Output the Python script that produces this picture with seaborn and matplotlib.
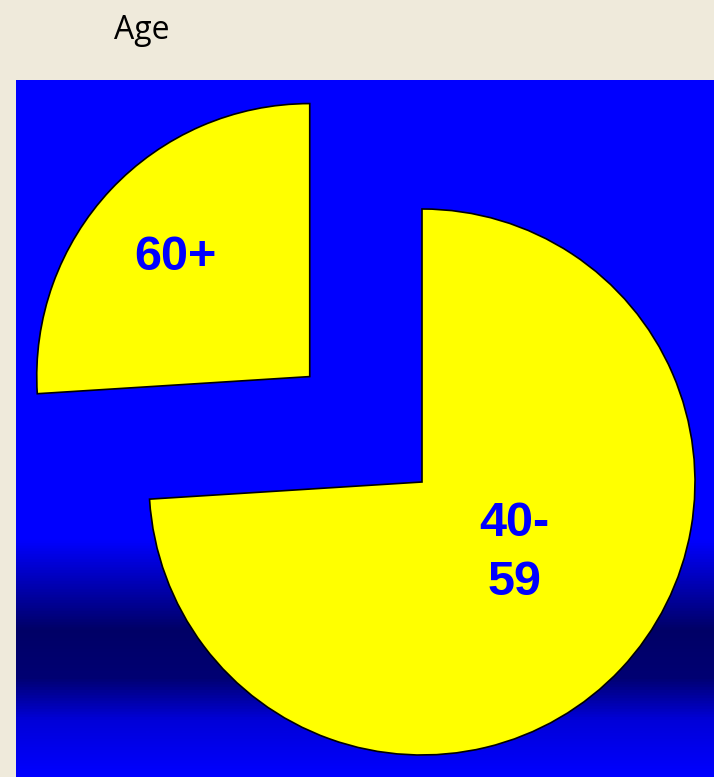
import numpy as np
import matplotlib
matplotlib.use("Agg")
import matplotlib.pyplot as plt
import seaborn as sns
from matplotlib.colors import LinearSegmentedColormap

# ---- data ----
categories = ["40-\n59", "60+"]
shares = [74, 26]
explode_px = [0, 154]
title = "Age"

sns.set_theme(style="white")
plt.rcParams['font.family'] = ['Liberation Sans', 'DejaVu Sans']

W, H = 714, 777
fig = plt.figure(figsize=(W / 100, H / 100), dpi=100)
fig.patch.set_facecolor('#EFEADB')

# panel axes in pixel-like data units (y up)
px0, py0 = 16, 80
ax = fig.add_axes([px0 / W, 0, (W - px0) / W, (H - py0) / H])
ax.set_axis_off()

# vertical gradient background (blue -> navy -> blue), row 0 = top of panel
cmap = LinearSegmentedColormap.from_list(
    "bg",
    [(0.0, (0, 0, 1)), (0.66, (0, 0, 1)), (0.79, (0, 0, 0.40)),
     (0.86, (0, 0, 0.45)), (0.92, (0, 0, 0.85)), (1.0, (0, 0, 1))])
grad = np.linspace(0, 1, 512).reshape(-1, 1)
ax.imshow(grad, cmap=cmap, aspect='auto',
          extent=[px0, W, 0, H - py0], origin='upper', zorder=0)

center = (422, H - 482)
radius = 273
wedges, _ = ax.pie(shares, explode=explode_px, startangle=90, counterclock=False,
                   center=center, radius=radius, colors=['#FFFF00', '#FFFF00'],
                   wedgeprops=dict(edgecolor='black', linewidth=1.2))
for w in wedges:
    w.set_zorder(2)
ax.set_xlim(px0, W)
ax.set_ylim(0, H - py0)
ax.set_aspect('auto')

lab_pos = [(514, H - 553), (175, H - 257)]
for name, (x, y) in zip(categories, lab_pos):
    ax.text(x, y, name, ha='center', va='center', color='#0000FF',
            fontsize=35, fontweight='bold', linespacing=1.4, zorder=3)

fig.text(142 / W, 1 - 39 / H, title, ha='center', va='baseline', fontsize=23,
         color='black', family=['Open Sans', 'DejaVu Sans'])

fig.savefig("out.png", dpi=100, facecolor=fig.get_facecolor())
